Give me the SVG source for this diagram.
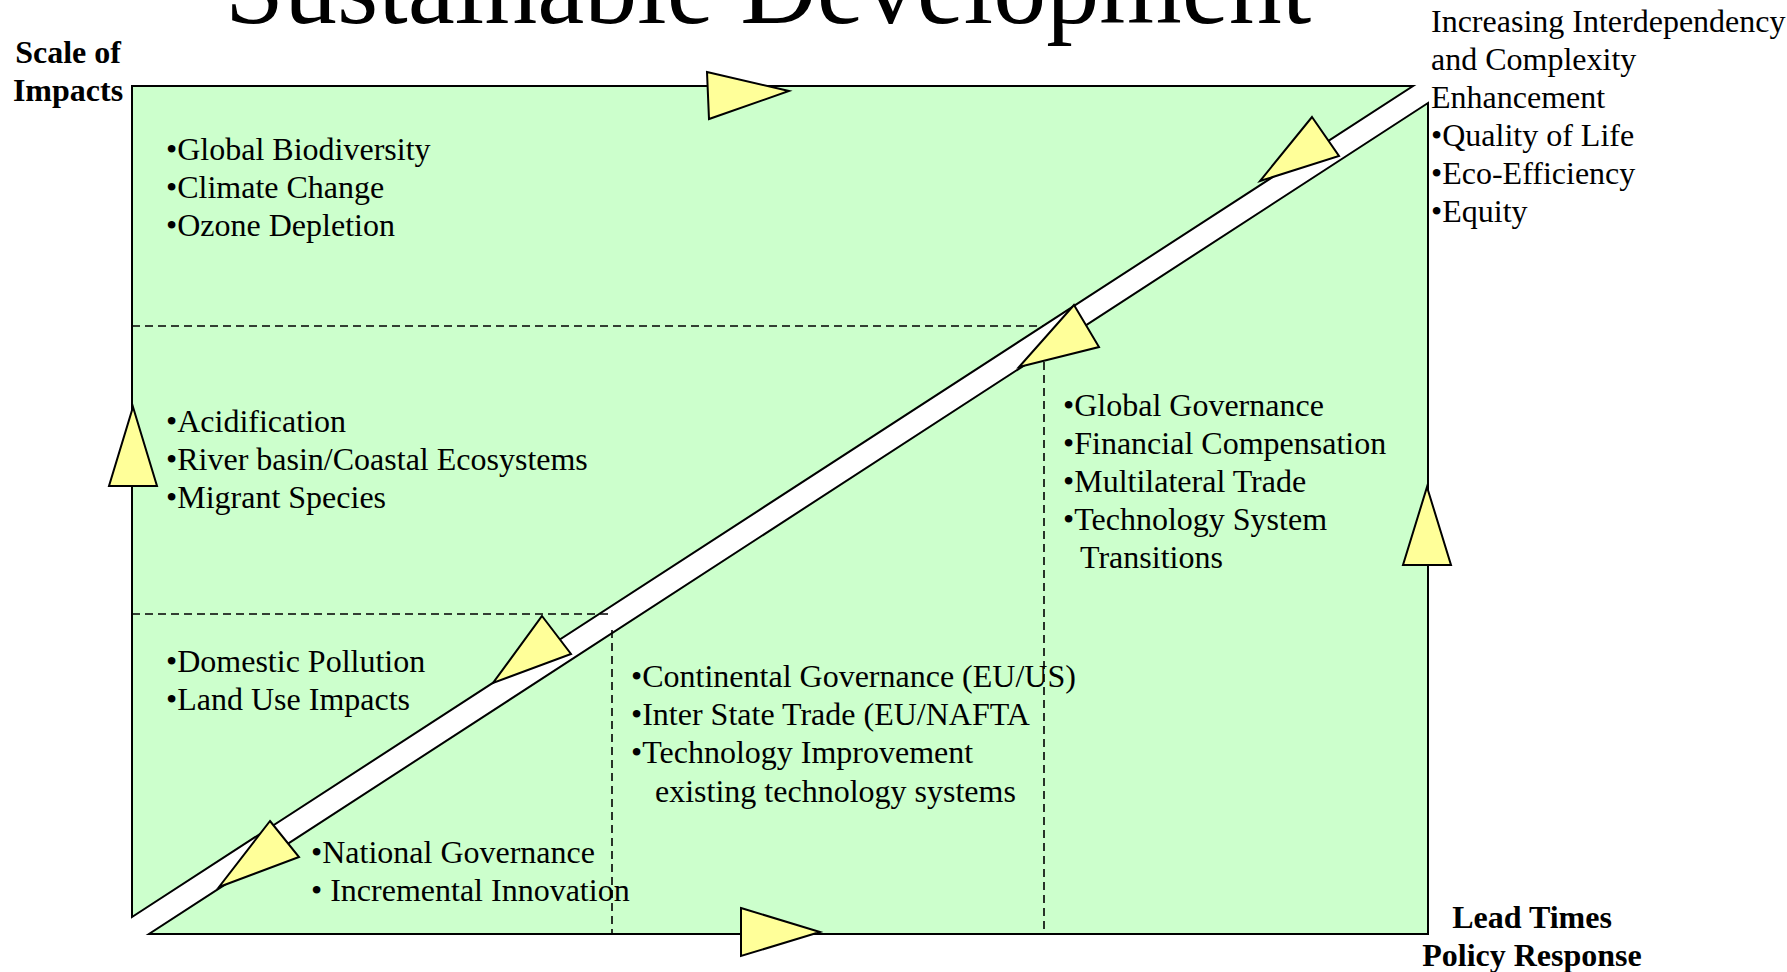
<svg xmlns="http://www.w3.org/2000/svg" width="1787" height="972" viewBox="0 0 1787 972">
<style>
.zone{fill:#CCFFCC;stroke:#000;stroke-width:2;stroke-linejoin:miter}
.dash{fill:none;stroke:#000;stroke-width:1.6;stroke-dasharray:8,5}
.arr{fill:#FFFF99;stroke:#000;stroke-width:2;stroke-linejoin:miter}
.t{font-family:"Liberation Serif","Times New Roman",serif;font-size:32px;fill:#000}
.b{font-family:"Liberation Serif","Times New Roman",serif;font-size:32px;font-weight:bold;fill:#000}
.title{font-family:"Liberation Serif","Times New Roman",serif;font-size:106px;fill:#000}
</style>
<rect width="1787" height="972" fill="#fff"/>
<g id="title"><text class="title" x="225" y="23">Sustainable Development</text></g>
<g id="upper-zone"><polygon class="zone" points="132,86 1413,86 132,917"/></g>
<g id="lower-zone"><polygon class="zone" points="1428,103 1428,934 149,934"/></g>
<g id="dividers">
<line class="dash" x1="132" y1="326" x2="1043" y2="326"/>
<line class="dash" x1="1044" y1="362" x2="1044" y2="934"/>
<line class="dash" x1="132" y1="614" x2="612" y2="614"/>
<line class="dash" x1="612" y1="630" x2="612" y2="934"/>
</g>
<g id="connectors">
<polygon class="arr" points="707,72 789,91 709,119"/>
<polygon class="arr" points="741,908 820,932 741,956"/>
<polygon class="arr" points="133,407 157,486 109,486"/>
<polygon class="arr" points="1427,487 1451,565 1403,565"/>
<polygon class="arr" points="1312,117 1339,156 1260,181"/>
<polygon class="arr" points="1074,305 1099,347 1019,367"/>
<polygon class="arr" points="542,616 571,654 493,683"/>
<polygon class="arr" points="270,821 299,857 219,887"/>
</g>
<g id="axis-y"><text class="b" text-anchor="middle"><tspan x="68" y="63">Scale of</tspan><tspan x="68" y="101">Impacts</tspan></text></g>
<g id="axis-x"><text class="b" text-anchor="middle"><tspan x="1532" y="928">Lead Times</tspan><tspan x="1532" y="966">Policy Response</tspan></text></g>
<g id="global-impacts"><text class="t"><tspan x="166" y="160">•Global Biodiversity</tspan><tspan x="166" y="198">•Climate Change</tspan><tspan x="166" y="236">•Ozone Depletion</tspan></text></g>
<g id="regional-impacts"><text class="t"><tspan x="166" y="432">•Acidification</tspan><tspan x="166" y="470">•River basin/Coastal Ecosystems</tspan><tspan x="166" y="508">•Migrant Species</tspan></text></g>
<g id="local-impacts"><text class="t"><tspan x="166" y="672">•Domestic Pollution</tspan><tspan x="166" y="710">•Land Use Impacts</tspan></text></g>
<g id="national-response"><text class="t"><tspan x="311" y="863">•National Governance</tspan><tspan x="311" y="901">• Incremental Innovation</tspan></text></g>
<g id="continental-response"><text class="t"><tspan x="631" y="687">•Continental Governance (EU/US)</tspan><tspan x="631" y="725">•Inter State Trade (EU/NAFTA</tspan><tspan x="631" y="763">•Technology Improvement</tspan><tspan x="655" y="802">existing technology systems</tspan></text></g>
<g id="global-response"><text class="t"><tspan x="1063" y="416">•Global Governance</tspan><tspan x="1063" y="454">•Financial Compensation</tspan><tspan x="1063" y="492">•Multilateral Trade</tspan><tspan x="1063" y="530">•Technology System</tspan><tspan x="1080" y="568">Transitions</tspan></text></g>
<g id="enhancement"><text class="t"><tspan x="1431" y="32">Increasing Interdependency</tspan><tspan x="1431" y="70">and Complexity</tspan><tspan x="1431" y="108">Enhancement</tspan><tspan x="1431" y="146">•Quality of Life</tspan><tspan x="1431" y="184">•Eco-Efficiency</tspan><tspan x="1431" y="222">•Equity</tspan></text></g>
</svg>
